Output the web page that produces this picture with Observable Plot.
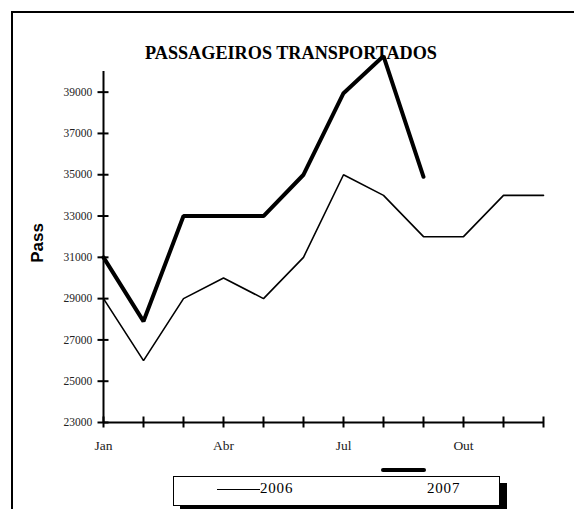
<!DOCTYPE html>
<html>
<head>
<meta charset="utf-8">
<script src="https://cdn.jsdelivr.net/npm/d3@7"></script>
<script src="https://cdn.jsdelivr.net/npm/@observablehq/plot@0.6"></script>
<style>
  html, body { margin: 0; padding: 0; background: #fff; }
  #wrap { position: relative; width: 574px; height: 509px; overflow: hidden; background: #fff; }
  #frame { position: absolute; left: 11px; top: 11px; width: 620px; height: 620px; border: 2px solid #000; box-sizing: border-box; }
  #chart { position: absolute; left: 0; top: 0; }
  #title { position: absolute; left: 145px; top: 43.5px; font: bold 18.2px/18px "Liberation Serif", "Times New Roman", serif; white-space: nowrap; color: #000; }
  #ylabel { position: absolute; left: 36.5px; top: 242.5px; transform: translate(-50%, -50%) rotate(-90deg); font: bold 17px/17px "Liberation Sans", Arial, sans-serif; white-space: nowrap; color: #000; }
  #legend { position: absolute; left: 172.5px; top: 476px; width: 327px; height: 30px; border: 1.5px solid #000; box-sizing: border-box; background: #fff; box-shadow: 7px 7px 0 #000; }
  .legtxt { position: absolute; font: 15px/15px "Liberation Serif", "Times New Roman", serif; letter-spacing: 0.8px; white-space: nowrap; color: #000; }
  .legline { position: absolute; background: #000; }
</style>
</head>
<body>
<div id="wrap">
  <div id="frame"></div>
  <div id="chart"></div>
  <div id="title"></div>
  <div id="ylabel"></div>
  <div id="legend"></div>
</div>
<script>
const titleText = "PASSAGEIROS TRANSPORTADOS";
const yLabelText = "Pass";
const months = ["Jan","Fev","Mar","Abr","Mai","Jun","Jul","Ago","Set","Out","Nov","Dez"];
const xTickLabels = ["Jan","Abr","Jul","Out"];
const yTicks = [23000, 25000, 27000, 29000, 31000, 33000, 35000, 37000, 39000];
const yDomain = [23000, 40000];
const seriesNames = ["2006", "2007"];
const values2006 = [29000, 26000, 29000, 30000, 29000, 31000, 35000, 34000, 32000, 32000, 34000, 34000];
const values2007 = [31000, 27900, 33000, 33000, 33000, 35000, 38950, 40750, 34900];

const rows = [];
values2006.forEach((v, i) => rows.push({month: months[i], value: v, series: seriesNames[0]}));
values2007.forEach((v, i) => rows.push({month: months[i], value: v, series: seriesNames[1]}));

const plot = Plot.plot({
  width: 574,
  height: 509,
  marginLeft: 103,
  marginRight: 31,
  marginTop: 71,
  marginBottom: 87,
  style: {background: "transparent", fontFamily: "'Liberation Serif', 'Times New Roman', serif", color: "#000"},
  x: {type: "point", domain: months, padding: 0},
  y: {domain: yDomain},
  marks: [
    Plot.ruleX([months[0]], {stroke: "#000", strokeWidth: 2}),
    Plot.ruleY([yDomain[0]], {stroke: "#000", strokeWidth: 2}),
    // crossing ticks
    Plot.axisY({ticks: yTicks, tickSize: 11, dx: 5.5, strokeWidth: 2, fill: "none", label: null}),
    Plot.axisX({ticks: months, tickSize: 11, dy: -5.5, strokeWidth: 2, fill: "none", label: null}),
    // tick labels
    Plot.axisY({ticks: yTicks, tickSize: 11, dx: 5.5, tickPadding: 5.8, stroke: "none", fontSize: 11.5,
      fontWeight: "normal", fill: "#222", tickFormat: d => String(d), label: null}),
    Plot.axisX({ticks: months, tickSize: 11, dy: -5.5, tickPadding: 12.5, stroke: "none", fontSize: 13.5,
      fontWeight: "normal", fill: "#222", tickFormat: m => xTickLabels.includes(m) ? m : "", label: null}),
    Plot.line(rows.filter(d => d.series === seriesNames[0]), {x: "month", y: "value", stroke: "#000", strokeWidth: 1.6, strokeLinejoin: "miter"}),
    Plot.line(rows.filter(d => d.series === seriesNames[1]), {x: "month", y: "value", stroke: "#000", strokeWidth: 4, strokeLinejoin: "miter", strokeLinecap: "round"})
  ]
});
document.getElementById("chart").appendChild(plot);
document.getElementById("title").textContent = titleText;
document.getElementById("ylabel").textContent = yLabelText;

// legend
const wrap = document.getElementById("wrap");
function addLine(left, top, w, h, r) {
  const d = document.createElement("div");
  d.className = "legline";
  Object.assign(d.style, {left: left + "px", top: top + "px", width: w + "px", height: h + "px", borderRadius: r + "px"});
  wrap.appendChild(d);
}
function addText(left, top, t) {
  const d = document.createElement("div");
  d.className = "legtxt";
  Object.assign(d.style, {left: left + "px", top: top + "px"});
  d.textContent = t;
  wrap.appendChild(d);
}
addLine(216.7, 488.5, 43.3, 1.6, 0);
addText(260, 481.4, seriesNames[0]);
addLine(381, 467.7, 45, 4, 2);
addText(427, 481.4, seriesNames[1]);
</script>
</body>
</html>
